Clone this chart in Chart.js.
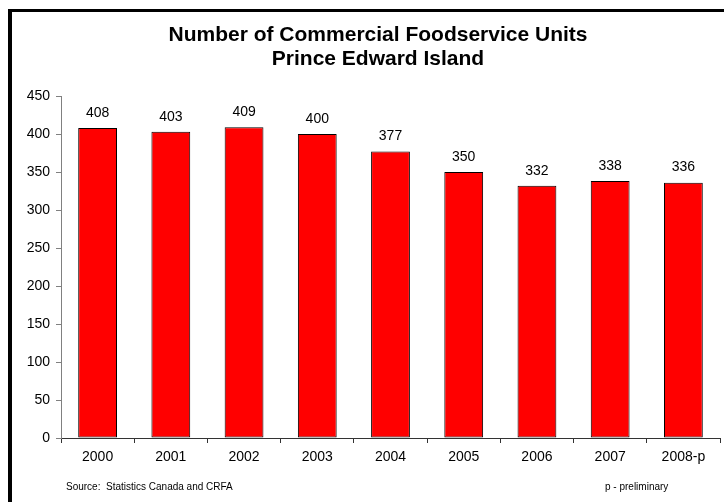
<!DOCTYPE html>
<html>
<head>
<meta charset="utf-8">
<script src="https://cdn.jsdelivr.net/npm/chart.js@4/dist/chart.umd.min.js"></script>
<style>
  html, body { margin: 0; padding: 0; background: #fff; }
  #wrap { width: 724px; height: 502px; position: relative; }
</style>
</head>
<body>
<div id="wrap"><canvas id="chartUnidades" width="724" height="502"></canvas></div>
<script>
// Datos del gráfico
const anios = ['2000', '2001', '2002', '2003', '2004', '2005', '2006', '2007', '2008-p'];
const unidades = [408, 403, 409, 400, 377, 350, 332, 338, 336];
const tituloLineas = ['Number of Commercial Foodservice Units', 'Prince Edward Island'];
const fuente = 'Source:  Statistics Canada and CRFA';
const nota = 'p - preliminary';

const fontFamily = 'Arial, "Liberation Sans", sans-serif';

// Marco, título, etiquetas de valor y pie
const decoraciones = {
    id: 'decoraciones',
    beforeDraw(chart) {
        const ctx = chart.ctx;
        ctx.save();
        ctx.fillStyle = '#fff';
        ctx.fillRect(0, 0, chart.width, chart.height);
        ctx.fillStyle = '#000';
        ctx.fillRect(8, 9, chart.width - 8, 3);
        ctx.fillRect(8, 9, 4, chart.height - 9);
        ctx.restore();
    },
    afterDraw(chart) {
        const ctx = chart.ctx;
        ctx.save();
        ctx.fillStyle = '#000';
        ctx.textAlign = 'center';
        ctx.textBaseline = 'alphabetic';
        ctx.font = 'bold 21px ' + fontFamily;
        ctx.fillText(tituloLineas[0], 378, 41);
        ctx.fillText(tituloLineas[1], 378, 65);

        ctx.font = '14px ' + fontFamily;
        ctx.textBaseline = 'bottom';
        const meta = chart.getDatasetMeta(0);
        meta.data.forEach((bar, i) => {
            ctx.fillText(String(unidades[i]), bar.x, bar.y - 8);
        });

        ctx.font = '10px ' + fontFamily;
        ctx.textBaseline = 'middle';
        ctx.textAlign = 'left';
        ctx.fillText(fuente, 66, 487);
        ctx.fillText(nota, 605, 487);
        ctx.restore();
    }
};

const ctx = document.getElementById('chartUnidades').getContext('2d');
new Chart(ctx, {
    type: 'bar',
    data: {
        labels: anios,
        datasets: [{
            data: unidades,
            backgroundColor: '#ff0000',
            borderColor: '#000',
            borderWidth: 1,
            borderSkipped: false,
            barPercentage: 0.53,
            categoryPercentage: 1
        }]
    },
    options: {
        responsive: false,
        animation: false,
        layout: { padding: { top: 96, right: 4, left: 0, bottom: 0 } },
        plugins: {
            legend: { display: false },
            title: { display: false },
            tooltip: { enabled: false }
        },
        scales: {
            x: {
                grid: { display: true, drawOnChartArea: false, offset: true, tickLength: 5, color: '#333' },
                border: { color: '#333', width: 1 },
                ticks: { color: '#000', font: { family: fontFamily, size: 14 }, padding: 6, maxRotation: 0 },
                afterFit(scale) { scale.height = 64; }
            },
            y: {
                min: 0,
                max: 450,
                grid: { display: true, drawOnChartArea: false, tickLength: 5, color: '#808080' },
                border: { color: '#808080', width: 1 },
                ticks: { stepSize: 50, color: '#000', font: { family: fontFamily, size: 14 }, padding: 6 },
                afterFit(scale) { scale.width = 61; }
            }
        }
    },
    plugins: [decoraciones]
});
</script>
</body>
</html>
